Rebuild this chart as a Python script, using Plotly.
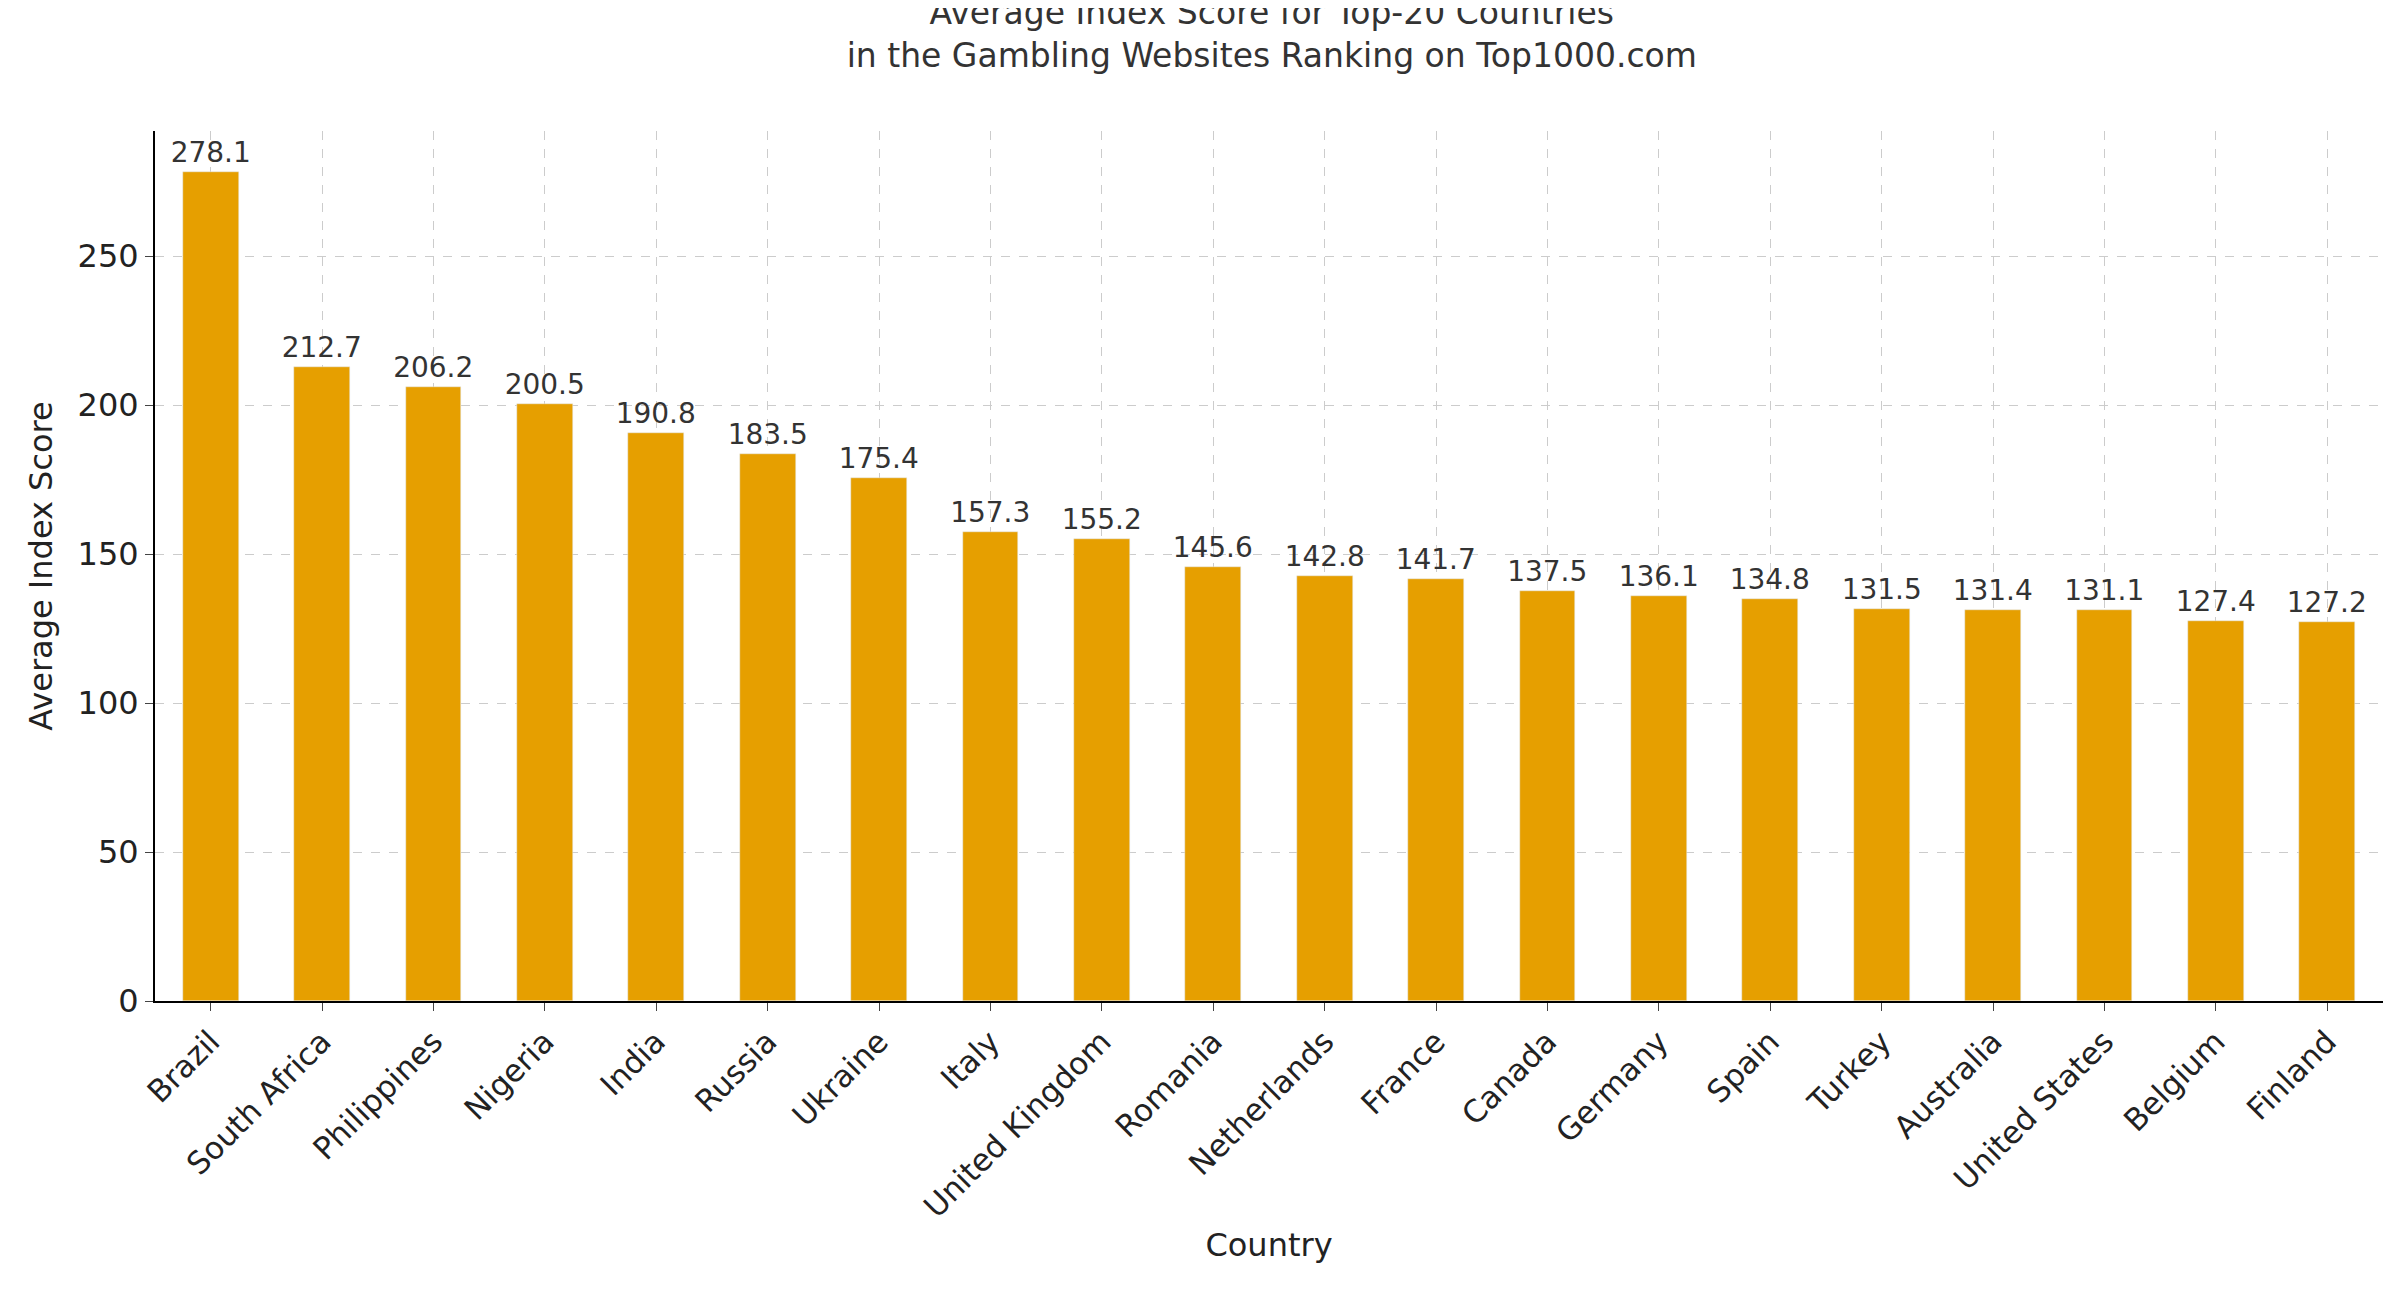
import plotly.graph_objects as go

countries = ["Brazil","South Africa","Philippines","Nigeria","India","Russia","Ukraine","Italy",
             "United Kingdom","Romania","Netherlands","France","Canada","Germany","Spain","Turkey",
             "Australia","United States","Belgium","Finland"]
scores = [278.1,212.7,206.2,200.5,190.8,183.5,175.4,157.3,155.2,145.6,142.8,141.7,137.5,136.1,
          134.8,131.5,131.4,131.1,127.4,127.2]

F = "DejaVu Sans"
fig = go.Figure(go.Bar(
    x=list(range(len(countries))), y=scores, width=0.5, marker_color="#E69F00",
    text=[f"{v:.1f}" for v in scores], textposition="outside", cliponaxis=False,
    textangle=0, constraintext="none",
    textfont=dict(family=F, size=28, color="#333333"),
))
fig.update_layout(
    width=2398, height=1315, plot_bgcolor="white", paper_bgcolor="white",
    margin=dict(l=147, r=23, t=123, b=322),
    font=dict(family=F, color="#222222"),
    title=dict(text="Average Index Score for Top-20 Countries<br>in the Gambling Websites Ranking on Top1000.com",
               x=0.527, xanchor="center", yref="container", y=0.988, yanchor="top",
               font=dict(size=33, color="#333333")),
    showlegend=False, bargap=0,
)
fig.update_xaxes(
    tickmode="array", tickvals=list(range(len(countries))), ticktext=countries,
    range=[-0.5, 19.5], tickangle=-45, tickfont=dict(size=31),
    showline=True, linecolor="black", linewidth=2, ticks="outside", ticklen=8,
    showgrid=True, gridcolor="#cccccc", griddash="dash", gridwidth=1,
    title=dict(text="Country", font=dict(size=32), standoff=10),
)
fig.update_yaxes(
    range=[0, 292], tickvals=[0,50,100,150,200,250], tickfont=dict(size=32),
    showline=True, linecolor="black", linewidth=2, ticks="outside", ticklen=8,
    showgrid=True, gridcolor="#cccccc", griddash="dash", gridwidth=1, zeroline=False,
    title=dict(text="Average Index Score", font=dict(size=32), standoff=15),
)
fig.write_html("out.html")
